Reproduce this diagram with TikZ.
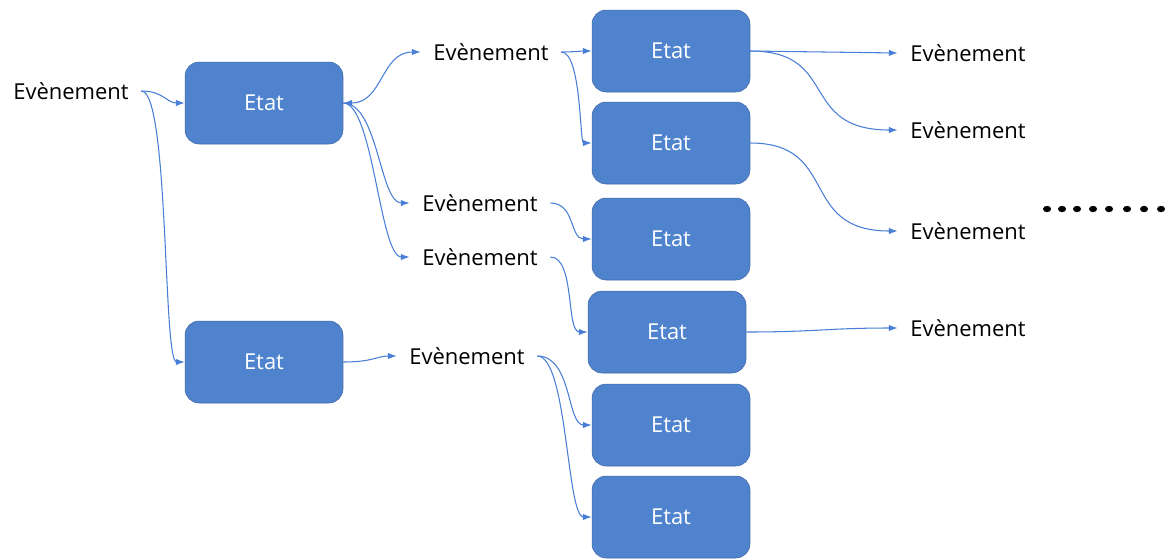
\documentclass[tikz,border=0pt]{standalone}
\usepackage{fontspec}
\setmainfont{Open Sans}
\usetikzlibrary{arrows.meta}
\definecolor{etatbleu}{RGB}{80,131,205}
\definecolor{lienbleu}{RGB}{72,126,214}
\tikzset{
	etat/.style={rectangle, rounded corners=8pt, fill=etatbleu, draw=etatbleu!80!black, line width=0.3pt,
		text=white, minimum width=3.16cm, minimum height=1.64cm, font=\fontsize{12.5}{15}\selectfont},
	evt/.style={inner xsep=7pt, inner ysep=2pt, font=\fontsize{12.5}{15}\selectfont},
	lien/.style={draw=lienbleu, line width=0.6pt, ->},
}
\begin{document}
\begin{tikzpicture}[x=0.02cm, y=-0.02cm, >={Latex[length=5pt,width=3.6pt]}]
				\useasboundingbox (0,0) rectangle (1165,559);
				% etats
				\node[etat] (e1) at (264,103) {Etat};
				\node[etat] (e2) at (264,362) {Etat};
				\node[etat] (c1) at (671,51) {Etat};
				\node[etat] (c2) at (671,143) {Etat};
				\node[etat] (c3) at (671,239) {Etat};
				\node[etat] (c4) at (667,332) {Etat};
				\node[etat] (c5) at (671,425) {Etat};
				\node[etat] (c6) at (671,517) {Etat};
				% evenements
				\node[evt] (ev0) at (71,91) {Evènement};
				\node[evt] (ev1) at (491,52) {Evènement};
				\node[evt] (ev2) at (480,203) {Evènement};
				\node[evt] (ev3) at (480,257) {Evènement};
				\node[evt] (ev4) at (467,356) {Evènement};
				\node[evt] (ev5) at (968,53) {Evènement};
				\node[evt] (ev6) at (968,130) {Evènement};
				\node[evt] (ev7) at (968,231) {Evènement};
				\node[evt] (ev8) at (968,328) {Evènement};
				% liens
				\draw[lien] (ev0.east) .. controls +(22,0) and +(-18,0) .. (e1.west);
				\draw[lien] (ev0.east) .. controls +(28,0) and +(-22,0) .. (e2.west);
				\draw[lien, <->] (e1.east) .. controls +(40,0) and +(-40,0) .. (ev1.west);
				\draw[lien] (e1.east) .. controls +(35,0) and +(-30,0) .. (ev2.west);
				\draw[lien] (e1.east) .. controls +(30,0) and +(-30,0) .. (ev3.west);
				\draw[lien] (ev1.east) .. controls +(12,0) and +(-10,0) .. (c1.west);
				\draw[lien] (ev1.east) .. controls +(20,0) and +(-12,0) .. (c2.west);
				\draw[lien] (ev2.east) .. controls +(25,0) and +(-22,0) .. (c3.west);
				\draw[lien] (ev3.east) .. controls +(25,0) and +(-22,0) .. (c4.west);
				\draw[lien] (e2.east) .. controls +(30,0) and +(-20,0) .. (ev4.west);
				\draw[lien] (ev4.east) .. controls +(35,0) and +(-25,0) .. (c5.west);
				\draw[lien] (ev4.east) .. controls +(30,0) and +(-25,0) .. (c6.west);
				\draw[lien] (c1.east) -- (ev5.west);
				\draw[lien] (c1.east) .. controls +(90,0) and +(-100,0) .. (ev6.west);
				\draw[lien] (c2.east) .. controls +(90,0) and +(-100,0) .. (ev7.west);
				\draw[lien] (c4.east) .. controls +(70,0) and +(-70,0) .. (ev8.west);
				% suite
				\foreach \x in {1047,1062,1077,1093,1109,1127,1144,1161}
					\fill (\x,209) ellipse (2.3pt and 1.8pt);
			\end{tikzpicture}
\end{document}
